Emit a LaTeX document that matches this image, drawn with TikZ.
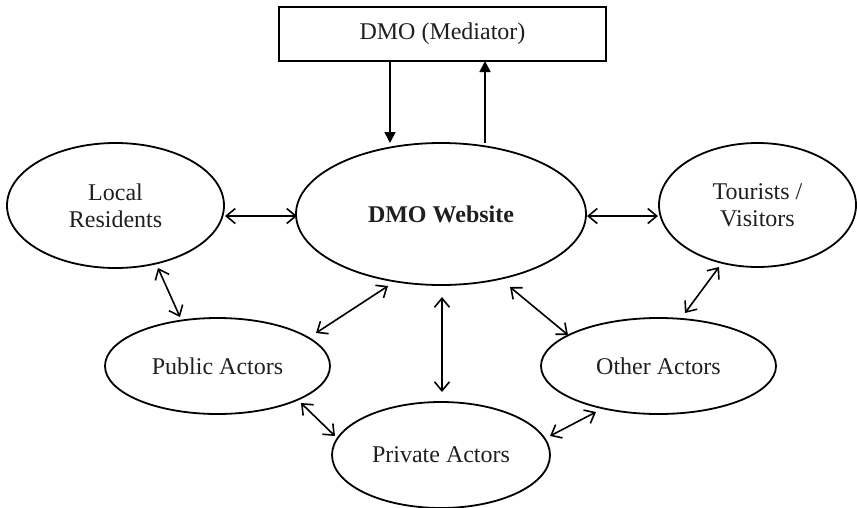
\documentclass[tikz,border=0pt]{standalone}
\usepackage{fontspec}
\setmainfont{Liberation Serif}
\usetikzlibrary{shapes.geometric,arrows.meta,calc}
\tikzset{
  oval/.style={draw=black, line width=1.8pt, ellipse, inner sep=0pt, outer sep=0pt, align=center, text=black!88,
    font=\fontsize{24}{27}\selectfont},
  medbox/.style={draw=black, line width=1.8pt, rectangle, inner sep=0pt, outer sep=0pt, text=black!88,
    font=\fontsize{24}{27}\selectfont},
  both/.style={line width=1.6pt, {Straight Barb[length=9pt,width=15pt]}-{Straight Barb[length=9pt,width=15pt]}},
  oneway/.style={line width=1.6pt, -{Triangle[length=11pt,width=11pt]}}
}
\begin{document}
\begin{tikzpicture}[x=1pt,y=-1pt]
\useasboundingbox (0,0) rectangle (857,507);
\node[medbox, minimum width=327pt, minimum height=54pt] (med) at (442.5,34) {DMO (Mediator)};
\node[oval, minimum width=290pt, minimum height=142pt] (web) at (441,214) {\textbf{DMO Website}};
\node[oval, minimum width=217pt, minimum height=125pt] (loc) at (115.5,205.5) {Local\\Residents};
\node[oval, minimum width=197pt, minimum height=124pt] (tour) at (757.5,205) {Tourists /\\Visitors};
\node[oval, minimum width=225pt, minimum height=96pt] (pub) at (217.5,366) {Public Actors};
\node[oval, minimum width=235pt, minimum height=96pt] (oth) at (658.5,366) {Other Actors};
\node[oval, minimum width=218pt, minimum height=106pt] (priv) at (441,455) {Private Actors};
% mediator arrows
\draw[oneway] ($(med)+(-52.5,27)$) -- ($(web)+(-51,-71)$);
\draw[oneway] ($(web)+(44,-71)$) -- ($(med)+(42.5,27)$);
% bidirectional arrows
\draw[both] ($(loc)+(109.5,10.5)$) -- ($(web)+(-144,2)$);
\draw[both] ($(web)+(146,2)$) -- ($(tour)+(-99.5,11)$);
\draw[both] ($(loc)+(42.5,62.5)$) -- ($(pub)+(-37.5,-49)$);
\draw[both] ($(web)+(-53,72)$) -- ($(pub)+(98.5,-33)$);
\draw[both] ($(web)+(1,83)$) -- ($(priv)+(1,-63)$);
\draw[both] ($(web)+(69,73)$) -- ($(oth)+(-90.5,-31)$);
\draw[both] ($(tour)+(-38.5,62)$) -- ($(oth)+(26.5,-53)$);
\draw[both] ($(pub)+(83.5,37)$) -- ($(priv)+(-106,-19)$);
\draw[both] ($(oth)+(-62.5,46)$) -- ($(priv)+(109,-19)$);
\end{tikzpicture}
\end{document}
